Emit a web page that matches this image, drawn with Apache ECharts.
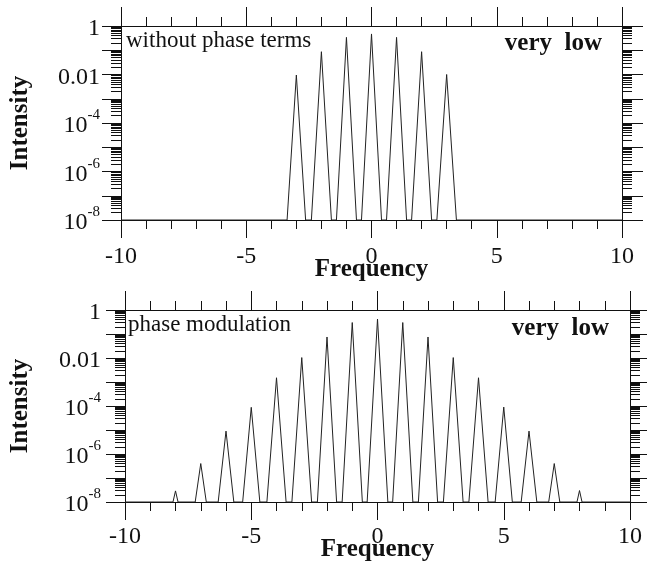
<!DOCTYPE html>
<html>
<head>
<meta charset="utf-8">
<script src="https://cdn.jsdelivr.net/npm/echarts@6/dist/echarts.min.js"></script>
<style>html,body{margin:0;padding:0;background:#fff}#c{width:647px;height:565px}</style>
</head>
<body>
<div id="c"></div>
<script>
// ---- data ----
var xTickLabels = [-10, -5, 0, 5, 10];
var yTickLabels = ['1', '0.01', '10^-4', '10^-6', '10^-8'];
var intensityFloor = 1e-8;

// top panel: without phase terms
var topFreq = [-3, -2, -1, 0, 1, 2, 3];
var topPeak = [0.0095, 0.087, 0.34, 0.47, 0.34, 0.087, 0.010];
var topHalfWidth = [0.37, 0.40, 0.40, 0.40, 0.40, 0.40, 0.39];

// bottom panel: phase modulation
var botFreq = [-8, -7, -6, -5, -4, -3, -2, -1, 0, 1, 2, 3, 4, 5, 6, 7, 8];
var botPeak = [2.9e-8, 4e-7, 9e-6, 8.8e-5, 1.5e-3, 0.0104, 0.075, 0.30, 0.42, 0.30, 0.075, 0.0104, 1.5e-3, 9e-5, 9e-6, 4e-7, 3e-8];
var botHalfWidth = [0.10, 0.22, 0.31, 0.34, 0.38, 0.39, 0.38, 0.40, 0.41, 0.40, 0.38, 0.39, 0.38, 0.34, 0.31, 0.22, 0.10];

function buildLine(freq, peak, hw) {
  var d = [[-10, intensityFloor]];
  for (var i = 0; i < freq.length; i++) {
    d.push([freq[i] - hw[i], intensityFloor]);
    d.push([freq[i], peak[i]]);
    d.push([freq[i] + hw[i], intensityFloor]);
  }
  d.push([10, intensityFloor]);
  return d;
}

var SERIF = '"Liberation Serif", "DejaVu Serif", serif';
var INK = '#111';

function yLabel(v) {
  var e = Math.round(Math.log(v) / Math.LN10);
  if (e % 2 !== 0) return '';
  var s = yTickLabels[-e / 2];
  if (s.indexOf('^') >= 0) {
    var p = s.split('^');
    return '{b|' + p[0] + '}{s|' + p[1] + '}';
  }
  return '{b|' + s + '}';
}
var richY = {
  b: { fontFamily: SERIF, fontSize: 24, color: INK, lineHeight: 30, verticalAlign: 'bottom' },
  s: { fontFamily: SERIF, fontSize: 15, color: INK, lineHeight: 14, verticalAlign: 'top' }
};

function xAxes(gi, margin, gap) {
  return [{
    type: 'value', gridIndex: gi, min: -10, max: 10, interval: 5, position: 'bottom',
    axisLine: { show: true, onZero: false, lineStyle: { color: INK, width: 1 } },
    axisTick: { show: true, inside: false, length: 18, lineStyle: { color: INK, width: 1 } },
    minorTick: { show: true, splitNumber: 5, length: 9, lineStyle: { color: INK, width: 1 } },
    splitLine: { show: false },
    axisLabel: { show: true, margin: margin, fontFamily: SERIF, fontSize: 24, color: INK,
      formatter: function (v) { return xTickLabels.indexOf(v) >= 0 ? String(v) : ''; } },
    name: 'Frequency', nameLocation: 'middle', nameGap: gap, nameMoveOverlap: false,
    nameTextStyle: { fontFamily: SERIF, fontSize: 25, fontWeight: 'bold', color: INK }
  }, {
    type: 'value', gridIndex: gi, min: -10, max: 10, interval: 5, position: 'top',
    axisLine: { show: true, onZero: false, lineStyle: { color: INK, width: 1 } },
    axisTick: { show: true, inside: false, length: 19, lineStyle: { color: INK, width: 1 } },
    minorTick: { show: true, splitNumber: 5, length: 9, lineStyle: { color: INK, width: 1 } },
    splitLine: { show: false },
    axisLabel: { show: false }
  }];
}
function yAxes(gi, margin, gap) {
  return [{
    type: 'log', logBase: 10, gridIndex: gi, min: 1e-8, max: 1, position: 'left',
    axisLine: { show: true, onZero: false, lineStyle: { color: INK, width: 1 } },
    axisTick: { show: true, inside: false, length: 19, lineStyle: { color: INK, width: 1 } },
    minorTick: { show: true, splitNumber: 9, length: 10, lineStyle: { color: INK, width: 1 } },
    splitLine: { show: false },
    axisLabel: { show: true, margin: margin, formatter: yLabel, rich: richY },
    name: 'Intensity', nameLocation: 'middle', nameGap: gap,
    nameTextStyle: { fontFamily: SERIF, fontSize: 25, fontWeight: 'bold', color: INK }
  }, {
    type: 'log', logBase: 10, gridIndex: gi, min: 1e-8, max: 1, position: 'right',
    axisLine: { show: true, onZero: false, lineStyle: { color: INK, width: 1 } },
    axisTick: { show: true, inside: false, length: 21, lineStyle: { color: INK, width: 1 } },
    minorTick: { show: true, splitNumber: 9, length: 10, lineStyle: { color: INK, width: 1 } },
    splitLine: { show: false },
    axisLabel: { show: false }
  }];
}

var option = {
  animation: false,
  backgroundColor: '#fff',
  grid: [
    { left: 121, top: 26, width: 501, height: 194, containLabel: false, outerBoundsMode: 'none' },
    { left: 125, top: 310, width: 505, height: 192, containLabel: false, outerBoundsMode: 'none' }
  ],
  xAxis: xAxes(0, 25, 37).concat(xAxes(1, 23, 35)),
  yAxis: yAxes(0, 21, 88).concat(yAxes(1, 24, 92)),
  series: [{
    type: 'line', xAxisIndex: 0, yAxisIndex: 0, data: buildLine(topFreq, topPeak, topHalfWidth),
    symbol: 'none', lineStyle: { color: '#222', width: 1 }, clip: true
  }, {
    type: 'line', xAxisIndex: 2, yAxisIndex: 2, data: buildLine(botFreq, botPeak, botHalfWidth),
    symbol: 'none', lineStyle: { color: '#222', width: 1 }, clip: true
  }],
  graphic: [
    { type: 'text', left: 126, top: 29, style: { text: 'without phase terms', font: '23px ' + SERIF, fill: INK } },
    { type: 'text', right: 45, top: 31, style: { text: 'very  low', font: 'bold 25px ' + SERIF, fill: INK } },
    { type: 'text', left: 128, top: 313, style: { text: 'phase modulation', font: '23px ' + SERIF, fill: INK } },
    { type: 'text', right: 38, top: 316, style: { text: 'very  low', font: 'bold 25px ' + SERIF, fill: INK } }
  ]
};
var chart = echarts.init(document.getElementById('c'), null, { renderer: 'canvas' });
chart.setOption(option);
</script>
</body>
</html>
